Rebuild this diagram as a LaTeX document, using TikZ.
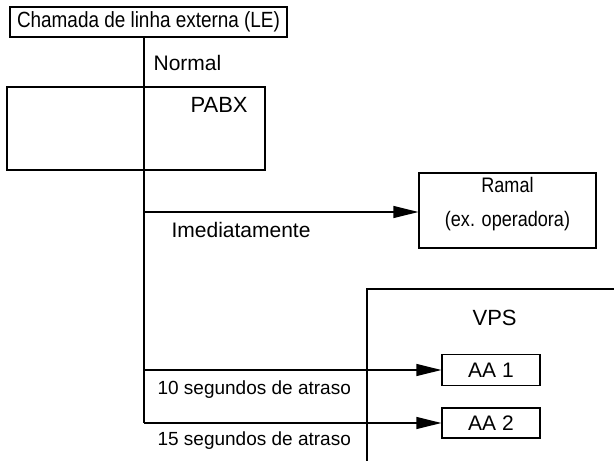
\documentclass[tikz,border=0pt]{standalone}
\usepackage{fontspec}
\setmainfont{Liberation Sans}
\usetikzlibrary{arrows.meta}
\tikzset{
  box/.style={draw,inner sep=0pt},
  lbl/.style={inner sep=0pt,anchor=base west},
  arr/.style={-{Triangle[length=25pt,width=12pt]}},
  narrow/.style={font=\fontsize{#1}{34}\selectfont\addfontfeature{FakeStretch=0.86}},
}
\begin{document}
\begin{tikzpicture}[x=1pt,y=-1pt,line width=1.2pt]
\useasboundingbox (0,0) rectangle (614,461);
\fontsize{21}{25}\selectfont
% boxes
\node[box,minimum width=277pt,minimum height=30pt,narrow=22] (le) at (148.5,22) {Chamada de linha externa (LE)};
\node[box,minimum width=258pt,minimum height=83pt] (pabx) at (136,128.5) {};
\node[box,minimum width=177pt,minimum height=75pt,align=center,text depth=17pt,narrow=21] (ramal) at (507.5,210.5) {Ramal\\(ex. operadora)};
\node[box,minimum width=98pt,minimum height=31pt] (aa1) at (491,370) {AA 1};
\node[box,minimum width=98pt,minimum height=30pt] (aa2) at (491,423) {AA 2};
\coordinate (vtr) at (620,289);
\coordinate (vtl) at (367,289);
\coordinate (vbl) at (367,467);
\draw (vtr) -- (vtl) -- (vbl);
% labels
\node[lbl,font=\fontsize{22}{26}\selectfont] (pabxlbl) at (190,112) {PABX};
\node[lbl,font=\fontsize{22}{26}\selectfont] (vpslbl) at (472,325) {VPS};
\node[lbl] (normal) at (153,70) {Normal};
\node[lbl] (imed) at (171,237) {Imediatamente};
\node[lbl,font=\fontsize{19}{22}\selectfont] (seg10) at (157,394) {10 segundos de atraso};
\node[lbl,font=\fontsize{19}{22}\selectfont] (seg15) at (157,445) {15 segundos de atraso};
% connectors
\coordinate (b0) at (144,212);
\coordinate (b1) at (144,370);
\coordinate (b2) at (144,423);
\draw (le.south -| b2) -- (b2);
\draw[arr] (b0) -- (ramal.west |- b0);
\draw[arr] (b1) -- (aa1.west);
\draw[arr] (b2) -- (aa2.west);
\end{tikzpicture}
\end{document}
